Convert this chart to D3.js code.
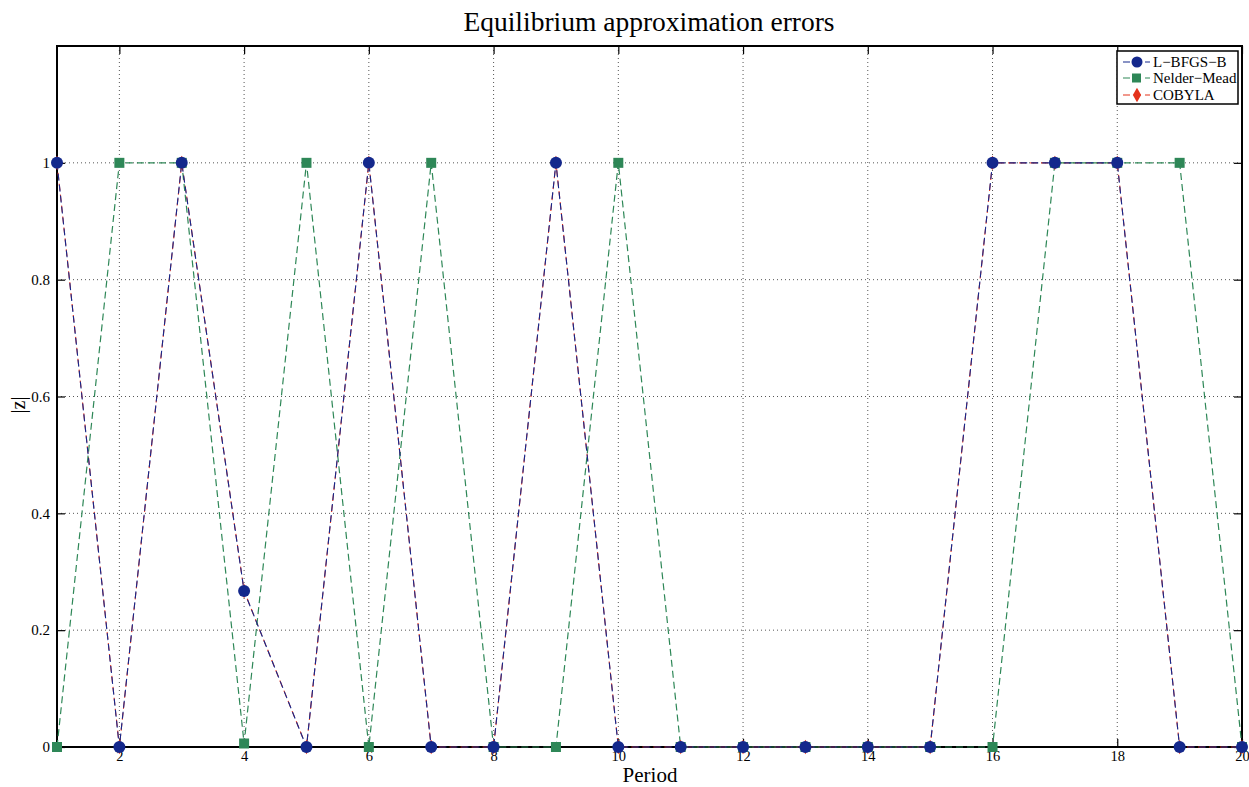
<!DOCTYPE html>
<html><head><meta charset="utf-8">
<script src="https://cdn.jsdelivr.net/npm/d3@7"></script>
<style>body{margin:0;background:#fff;} svg{display:block;font-family:"Liberation Serif","Times New Roman",serif;}</style>
</head><body>
<svg id="c" width="1249" height="787"></svg>
<script>
const periods = [1,2,3,4,5,6,7,8,9,10,11,12,13,14,15,16,17,18,19,20];
const lbfgsb = [1,0,1,0.267,0,1,0,0,1,0,0,0,0,0,0,1,1,1,0,0];
const nelderMead = [0,1,1,0.006,1,0,1,0,0,1,0,0,0,0,0,0,1,1,1,0];
const cobyla = [1,0,1,0.267,0,1,0,0,1,0,0,0,0,0,0,1,1,1,0,0];
const xTicks = [2,4,6,8,10,12,14,16,18,20];
const yTicks = [0,0.2,0.4,0.6,0.8,1];
const seriesNames = ["L\u2212BFGS\u2212B","Nelder\u2212Mead","COBYLA"];
const colors = ["#14288c","#2e8757","#e4321b"];

const svg = d3.select("#c");
const L=57, R=1242, T=46, B=747;
const x = d3.scaleLinear().domain([1,20]).range([L,R]);
const y = d3.scaleLinear().domain([0,1.2]).range([B,T]);

// grid
const g = svg.append("g");
g.selectAll(".vg").data(xTicks.filter(d=>d<20)).enter().append("line")
  .attr("x1",d=>x(d)).attr("x2",d=>x(d)).attr("y1",T).attr("y2",B)
  .attr("stroke","#555").attr("stroke-width",1).attr("stroke-dasharray","1,3");
g.selectAll(".hg").data(yTicks.filter(d=>d>0)).enter().append("line")
  .attr("x1",L).attr("x2",R).attr("y1",d=>y(d)).attr("y2",d=>y(d))
  .attr("stroke","#555").attr("stroke-width",1).attr("stroke-dasharray","1,3");

// axes with inward ticks
const tk = 8;
const xb = svg.append("g").attr("transform",`translate(0,${B})`).call(d3.axisBottom(x).tickValues(xTicks).tickSizeInner(-tk).tickSizeOuter(0).tickPadding(4));
const xt = svg.append("g").attr("transform",`translate(0,${T})`).call(d3.axisTop(x).tickValues(xTicks).tickSizeInner(-tk).tickSizeOuter(0).tickFormat(""));
const yl = svg.append("g").attr("transform",`translate(${L},0)`).call(d3.axisLeft(y).tickValues(yTicks).tickSizeInner(-tk).tickSizeOuter(0).tickPadding(14).tickFormat(d3.format("")));
const yr = svg.append("g").attr("transform",`translate(${R},0)`).call(d3.axisRight(y).tickValues(yTicks).tickSizeInner(-tk).tickSizeOuter(0).tickFormat(""));
[xb,xt,yl,yr].forEach(a=>{
  a.attr("font-family","Liberation Serif").attr("font-size",15);
  a.select(".domain").remove();
  a.selectAll(".tick line").attr("stroke","#000").attr("stroke-width",1.2);
  a.selectAll("text").attr("fill","#000");
});
xb.attr("font-size",14.5);
xb.selectAll("text").attr("dy","0.71em");
yl.selectAll("text").attr("dx","7");
svg.append("rect").attr("x",L).attr("y",T).attr("width",R-L).attr("height",B-T)
  .attr("fill","none").attr("stroke","#000").attr("stroke-width",2);

// series
const line = d3.line().x((d,i)=>x(periods[i])).y(d=>y(d));
const plot = svg.append("g");
function drawLine(data,color,w,off){
  plot.append("path").datum(data).attr("d",line).attr("fill","none")
    .attr("stroke",color).attr("stroke-width",w).attr("stroke-dasharray","7,4").attr("stroke-dashoffset",off);
}
drawLine(cobyla,colors[2],1.1,1);
drawLine(nelderMead,colors[1],1.2,0);
drawLine(lbfgsb,colors[0],1.1,0);

// markers
plot.selectAll(".cm").data(cobyla).enter().append("path")
  .attr("d",d3.symbol(d3.symbolDiamond,60)).attr("transform",(d,i)=>`translate(${x(periods[i])},${y(d)})`)
  .attr("fill",colors[2]);
plot.selectAll(".nm").data(nelderMead).enter().append("rect")
  .attr("x",(d,i)=>x(periods[i])-5).attr("y",d=>y(d)-5).attr("width",10).attr("height",10)
  .attr("fill",colors[1]);
plot.selectAll(".lm").data(lbfgsb).enter().append("circle")
  .attr("cx",(d,i)=>x(periods[i])).attr("cy",d=>y(d)).attr("r",6)
  .attr("fill",colors[0]);

// titles
svg.append("text").attr("x",649).attr("y",31).attr("text-anchor","middle")
  .attr("font-size",27.5).text("Equilibrium approximation errors");
svg.append("text").attr("x",650).attr("y",782).attr("text-anchor","middle")
  .attr("font-size",21).text("Period");
svg.append("text").attr("transform","translate(25,405) rotate(-90)").attr("text-anchor","middle")
  .attr("font-size",20).text("|z|");

// legend
const lg = svg.append("g");
lg.append("rect").attr("x",1117).attr("y",51).attr("width",121).attr("height",53)
  .attr("fill","#fff").attr("stroke","#000").attr("stroke-width",1.5);
const rowsY = [62,78,95];
seriesNames.forEach((n,i)=>{
  const yy = rowsY[i];
  lg.append("line").attr("x1",1123).attr("x2",1150).attr("y1",yy).attr("y2",yy)
    .attr("stroke",colors[i]).attr("stroke-width",1.1).attr("stroke-dasharray","7,4");
  if(i===0) lg.append("circle").attr("cx",1137).attr("cy",yy).attr("r",5.5).attr("fill",colors[i]);
  if(i===1) lg.append("rect").attr("x",1132).attr("y",yy-4.5).attr("width",9).attr("height",9).attr("fill",colors[i]);
  if(i===2) lg.append("path").attr("d",d3.symbol(d3.symbolDiamond,60)).attr("transform",`translate(1137,${yy})`).attr("fill",colors[i]);
  lg.append("text").attr("x",1153).attr("y",yy+5).attr("font-size",15).text(n);
});
</script>
</body></html>
